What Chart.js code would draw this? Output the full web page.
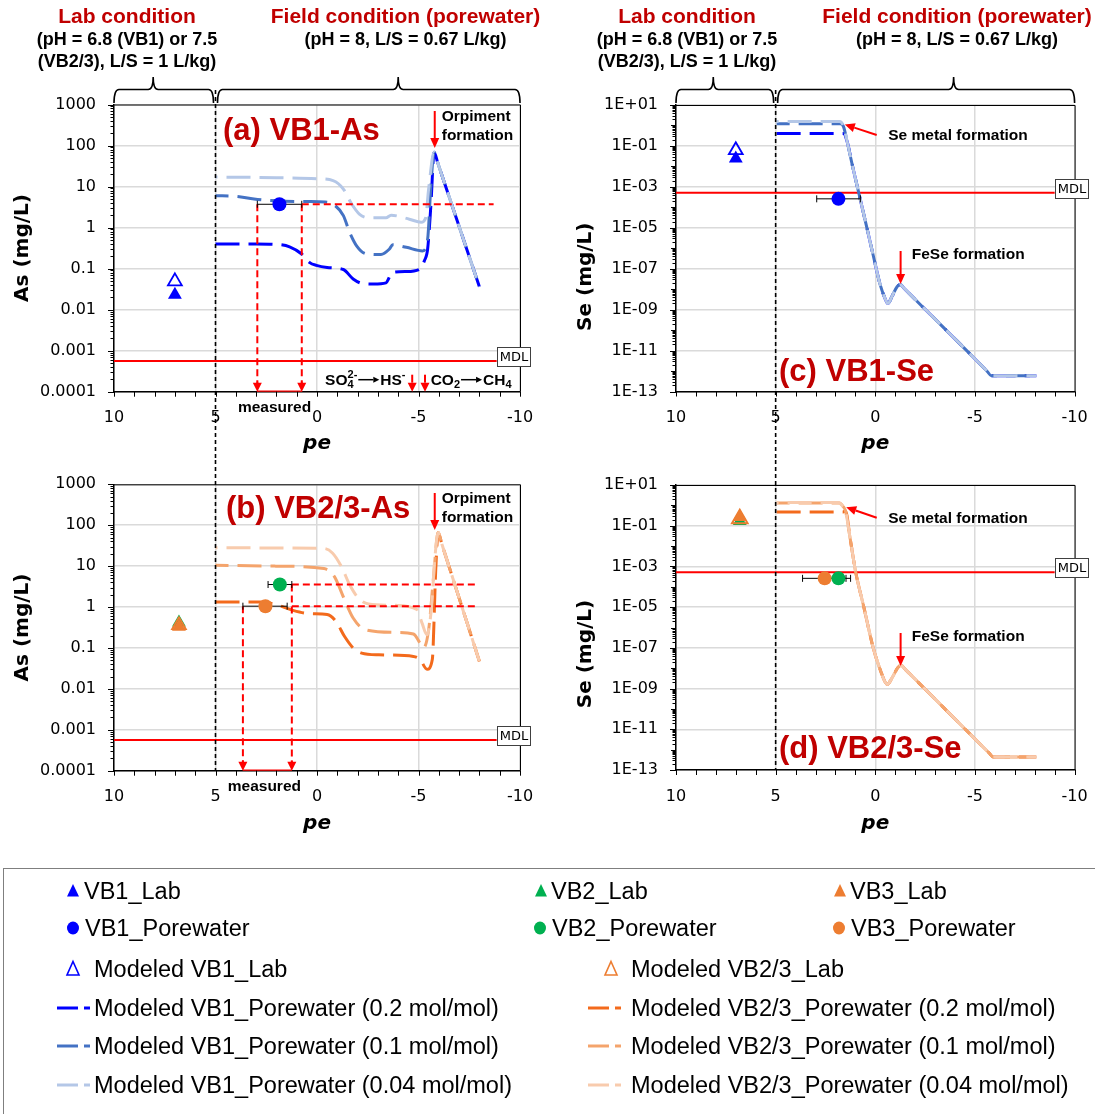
<!DOCTYPE html>
<html>
<head>
<meta charset="utf-8">
<script src="https://cdn.jsdelivr.net/npm/chart.js@4.4.1/dist/chart.umd.min.js"></script>
<style>
  html, body { margin: 0; padding: 0; background: #fff; width: 1095px; height: 1114px; overflow: hidden; position: relative; }
  canvas { position: absolute; }
  .box { position: absolute; left: 3px; top: 868px; width: 1100px; height: 260px; border: 1px solid #7f7f7f; box-sizing: border-box; }
  .leg { position: absolute; font-family: "Liberation Sans", Arial, sans-serif; font-size: 23.5px; color: #000; white-space: nowrap; line-height: 26px; }
  svg { position: absolute; left: 0; top: 0; }
</style>
</head>
<body>
<canvas id="cA" width="548" height="460" style="left:0;top:0"></canvas>
<canvas id="cB" width="548" height="395" style="left:0;top:460px"></canvas>
<canvas id="cC" width="547" height="460" style="left:548px;top:0"></canvas>
<canvas id="cD" width="547" height="395" style="left:548px;top:460px"></canvas>
<div class="box"></div>
<svg id="legMarks" width="1095" height="1114"></svg>
<div id="legend"></div>
<script>
// ---------- axis ticks ----------
const peTicks = [10, 5, 0, -5, -10];
const peTickLabels = ['10', '5', '0', '-5', '-10'];
const asTicks = [1e-4, 1e-3, 1e-2, 1e-1, 1, 10, 100, 1000];
const asTickLabels = ['0.0001', '0.001', '0.01', '0.1', '1', '10', '100', '1000'];
const seTicks = [1e-13, 1e-11, 1e-9, 1e-7, 1e-5, 1e-3, 1e-1, 10];
const seTickLabels = ['1E-13', '1E-11', '1E-09', '1E-07', '1E-05', '1E-03', '1E-01', '1E+01'];

// ---------- method detection limits (mg/L) ----------
const mdlAs = 0.00056;
const mdlSe = 0.00052;

// ---------- measured / modeled lab points [pe, mg/L] ----------
const vb1AsLab = [[7.0, 0.023]];
const vb1AsLabModel = [[7.0, 0.049]];
const vb1AsPore = [[1.85, 3.7]];
const vb2AsLab = [[6.8, 0.42]];
const vb3AsLab = [[6.8, 0.33]];
const vb23AsLabModel = [[6.8, 0.36]];
const vb2AsPore = [[1.83, 3.55]];
const vb3AsPore = [[2.54, 1.05]];
const vb1SeLab = [[7.0, 0.024]];
const vb1SeLabModel = [[7.0, 0.062]];
const vb1SePore = [[1.85, 0.00026]];
const vb2SeLab = [[6.8, 0.17]];
const vb3SeLab = [[6.8, 0.27]];
const vb23SeLabModel = [[6.8, 0.22]];
const vb2SePore = [[1.85, 0.00026]];
const vb3SePore = [[2.54, 0.00026]];

// measured porewater pe range [high, low]
const vb1PeRange = [2.94, 0.75];
const vb2PeRange = [2.41, 1.24];
const vb3PeRange = [3.65, 1.47];
// pe where the measured-concentration guide lines end
const guideEndA = -8.7;
const guideEndB = -7.9;

// ---------- modeled porewater curves [pe, mg/L] ----------
const vb1As02 = [[5.0, 0.40], [4.0, 0.40], [3.0, 0.40], [2.0, 0.39], [1.35, 0.34], [0.77, 0.23], [0.36, 0.14], [0.03, 0.12],
  [-0.5, 0.107], [-1.3, 0.095], [-1.78, 0.056], [-2.27, 0.043], [-2.8, 0.042], [-3.4, 0.045], [-3.55, 0.06], [-3.68, 0.08],
  [-4.4, 0.085], [-5.03, 0.095], [-5.3, 0.16], [-5.45, 0.30], [-5.61, 3.5], [-5.77, 69], [-5.95, 37.5], [-8.0, 0.036]];
const vb1As01 = [[5.0, 6.0], [4.0, 5.8], [3.1, 5.0], [2.0, 4.5], [0.5, 4.3], [-0.4, 4.2], [-0.87, 3.5], [-1.3, 1.95],
  [-1.6, 0.78], [-1.95, 0.36], [-2.42, 0.23], [-3.15, 0.22], [-3.57, 0.30], [-3.73, 0.38], [-4.4, 0.33], [-5.2, 0.27],
  [-5.45, 0.52], [-5.6, 8.7], [-5.77, 69], [-5.95, 37.5], [-8.0, 0.036]];
const vb1As004 = [[5.0, 17], [2.0, 16.5], [0.0, 15.5], [-0.79, 14], [-1.3, 8.7], [-1.7, 3.8], [-2.1, 2.1], [-2.58, 1.73],
  [-3.4, 1.73], [-3.65, 2.0], [-4.55, 1.6], [-5.13, 1.35], [-5.35, 1.7], [-5.5, 8.7], [-5.77, 69], [-5.95, 37.5], [-8.0, 0.036]];

const vb23As02 = [[5.0, 1.33], [2.71, 1.33], [2.03, 1.15], [1.19, 0.83], [0.34, 0.69], [-0.5, 0.66], [-0.93, 0.45],
  [-1.36, 0.19], [-1.78, 0.10], [-2.2, 0.075], [-3.05, 0.068], [-4.75, 0.062], [-5.08, 0.052], [-5.42, 0.030],
  [-5.68, 0.052], [-5.85, 8.3], [-5.97, 66], [-6.15, 34.7], [-8.0, 0.047]];
const vb23As01 = [[5.0, 10.5], [2.03, 10], [-0.34, 8.7], [-0.85, 5.6], [-1.36, 1.5], [-1.78, 0.54], [-2.37, 0.28],
  [-3.9, 0.24], [-4.75, 0.22], [-5.08, 0.13], [-5.25, 0.10], [-5.5, 0.28], [-5.73, 4.7], [-5.97, 66], [-6.15, 34.7], [-8.0, 0.047]];
const vb23As004 = [[5.0, 28], [-0.34, 27], [-0.76, 21], [-1.19, 10], [-1.61, 3.5], [-2.03, 1.67], [-2.54, 1.19],
  [-3.9, 1.1], [-4.92, 0.87], [-5.17, 0.41], [-5.42, 0.21], [-5.63, 0.87], [-5.8, 14.5], [-5.97, 66], [-6.15, 34.7], [-8.0, 0.047]];

// shared reduced branch of the Se curves (Se metal -> FeSe control)
const vb1SeTail = [[1.41, 0.16], [1.15, 1.1e-2], [0.8, 3.8e-4], [0.45, 1.3e-5], [0.10, 4.3e-7], [-0.24, 1.7e-8],
  [-0.47, 3.9e-9], [-0.63, 2.0e-9], [-0.85, 4.7e-9], [-1.1, 1.35e-8], [-1.25, 1.7e-8], [-1.45, 1.08e-8],
  [-5.62, 9.5e-13], [-5.82, 5.9e-13], [-6.0, 5.9e-13], [-8.08, 5.9e-13]];
const vb1Se02 = [[4.95, 0.41], [1.6, 0.41]].concat(vb1SeTail);
const vb1Se01 = [[4.95, 1.2], [1.75, 1.2], [1.6, 0.9]].concat(vb1SeTail);
const vb1Se004 = [[4.95, 1.55], [1.8, 1.55], [1.6, 0.95]].concat(vb1SeTail);

const vb23SeTail = [[1.5, 0.55], [1.25, 2.0e-2], [0.98, 5.0e-4], [0.575, 1.0e-5], [0.105, 1.0e-7], [-0.3, 6.0e-9],
  [-0.48, 2.2e-9], [-0.6, 1.6e-9], [-0.85, 3.5e-9], [-1.14, 1.1e-8], [-1.29, 1.4e-8], [-1.5, 8.8e-9],
  [-5.7, 7.0e-13], [-5.91, 4.4e-13], [-6.1, 4.4e-13], [-8.08, 4.4e-13]];
const vb23Se02 = [[4.95, 0.47], [1.62, 0.47]].concat(vb23SeTail);
const vb23Se01 = [[4.95, 1.3], [1.8, 1.3], [1.62, 0.9]].concat(vb23SeTail);
const vb23Se004 = [[4.95, 1.4], [1.85, 1.4], [1.65, 0.95]].concat(vb23SeTail);

// ---------- styling ----------
const FONT = '"Liberation Sans", Arial, sans-serif';
const TFONT = '"DejaVu Sans", Verdana, sans-serif';
const RED = '#FF0000';
const TITLE_RED = '#C00000';
const C = {
  blue: '#0000FF', blue02: '#0000FF', blue01: '#4472C4', blue004: '#B4C7E7',
  green: '#00B050', orange: '#ED7D31',
  or02: '#F36A1C', or01: '#F4A46C', or004: '#F8CBAD'
};

const xy = pairs => pairs.map(p => ({ x: p[0], y: p[1] }));

function curve(pairs, color, offset, order) {
  return { data: xy(pairs), borderColor: color, borderWidth: 3, borderDash: [24, 9], borderDashOffset: offset,
    borderCapStyle: 'butt', pointRadius: 0, fill: false, cubicInterpolationMode: 'monotone', order };
}
function pts(pairs, style, r, fill, stroke, bw, order) {
  return { data: xy(pairs), showLine: false, pointStyle: style, pointRadius: r, pointHoverRadius: r,
    pointBackgroundColor: fill, pointBorderColor: stroke, pointBorderWidth: bw, order };
}
function errbar(range, v) {
  return { data: [{ x: range[0], y: v }, { x: range[1], y: v }], borderColor: '#000', borderWidth: 1,
    pointStyle: 'line', pointRotation: 90, pointRadius: 3.5, pointBorderColor: '#000', pointBorderWidth: 1, order: 2 };
}
function guide(pairs, dashed, w) {
  return { data: xy(pairs), borderColor: RED, borderWidth: w || 2, borderDash: dashed ? [7, 4] : [],
    pointRadius: 0, tension: 0, order: 3 };
}
function mdlLine(v, xEnd) {
  return { data: [{ x: 10, y: v }, { x: xEnd, y: v }], borderColor: RED, borderWidth: 2, pointRadius: 0, order: 8 };
}

// ---------- drawing helpers ----------
function text(ctx, s, x, y, font, color, align, base) {
  ctx.font = font; ctx.fillStyle = color || '#000';
  ctx.textAlign = align || 'left'; ctx.textBaseline = base || 'middle';
  ctx.fillText(s, x, y);
}
function arrow(ctx, x0, y0, x1, y1, color, lw, hl, hw) {
  const a = Math.atan2(y1 - y0, x1 - x0);
  const bx = x1 - hl * Math.cos(a), by = y1 - hl * Math.sin(a);
  ctx.save();
  ctx.strokeStyle = color; ctx.fillStyle = color; ctx.lineWidth = lw; ctx.setLineDash([]);
  ctx.beginPath(); ctx.moveTo(x0, y0); ctx.lineTo(bx, by); ctx.stroke();
  ctx.beginPath(); ctx.moveTo(x1, y1);
  ctx.lineTo(bx + hw * Math.sin(a), by - hw * Math.cos(a));
  ctx.lineTo(bx - hw * Math.sin(a), by + hw * Math.cos(a));
  ctx.closePath(); ctx.fill();
  ctx.restore();
}
function brace(ctx, x1, x2, xn, yTip, yBase, yEnd) {
  const r = 5;
  ctx.save(); ctx.strokeStyle = '#000'; ctx.lineWidth = 1.6; ctx.setLineDash([]);
  ctx.beginPath();
  ctx.moveTo(x1, yEnd);
  ctx.quadraticCurveTo(x1, yBase, x1 + r, yBase);
  ctx.lineTo(xn - r, yBase);
  ctx.quadraticCurveTo(xn, yBase, xn, yTip);
  ctx.quadraticCurveTo(xn, yBase, xn + r, yBase);
  ctx.lineTo(x2 - r, yBase);
  ctx.quadraticCurveTo(x2, yBase, x2, yEnd);
  ctx.stroke(); ctx.restore();
}
function vDash(ctx, x, y0, y1) {
  ctx.save(); ctx.strokeStyle = '#000'; ctx.lineWidth = 1.6; ctx.setLineDash([4, 3]);
  ctx.beginPath(); ctx.moveTo(x, y0); ctx.lineTo(x, y1); ctx.stroke(); ctx.restore();
}
function mdlBox(ctx, x, yLine) {
  ctx.save();
  ctx.fillStyle = '#fff'; ctx.strokeStyle = '#404040'; ctx.lineWidth = 1;
  const y = Math.round(yLine - 14) + 0.5, xx = Math.round(x) + 0.5;
  ctx.fillRect(xx, y, 33, 19); ctx.strokeRect(xx, y, 33, 19);
  text(ctx, 'MDL', xx + 16.5, y + 10, '13px ' + TFONT, '#000', 'center', 'middle');
  ctx.restore();
}
function axisTitles(c, yTitle, xc, yTitlePos, xBase) {
  const ctx = c.ctx;
  ctx.save();
  ctx.translate(xc, yTitlePos); ctx.rotate(-Math.PI / 2);
  text(ctx, yTitle, 0, 0, 'bold 20px ' + TFONT, '#000', 'center', 'middle');
  ctx.restore();
  text(ctx, 'pe', c.scales.x.getPixelForValue(0), xBase, 'italic bold 20px ' + TFONT, '#000', 'center', 'alphabetic');
}
function frameAndTicks(c) {
  const { ctx, chartArea: a, scales: { x, y } } = c;
  ctx.save();
  ctx.strokeStyle = '#000'; ctx.lineWidth = 1; ctx.setLineDash([]);
  ctx.beginPath();
  ctx.moveTo(a.left, a.top + 0.5); ctx.lineTo(a.right + 0.5, a.top + 0.5); ctx.lineTo(a.right + 0.5, a.bottom);
  ctx.stroke();
  // log ticks: decades and 2..9 subdivisions
  const lo = Math.round(Math.log10(y.min)), hi = Math.round(Math.log10(y.max));
  const labeled = y.ticks.map(t => Math.round(Math.log10(t.value)));
  ctx.beginPath();
  for (let n = lo; n <= hi; n++) {
    for (let k = 1; k < 10; k++) {
      if (n === hi && k > 1) break;
      const yy = Math.round(y.getPixelForValue(k * Math.pow(10, n))) + 0.5;
      const len = k === 1 ? (labeled.includes(n) ? 6 : 5) : 3.5;
      ctx.moveTo(a.left - len, yy); ctx.lineTo(a.left, yy);
    }
  }
  for (let p = -10; p <= 10; p++) {
    const xx = Math.round(x.getPixelForValue(p)) + 0.5;
    ctx.moveTo(xx, a.bottom); ctx.lineTo(xx, a.bottom + 5);
  }
  ctx.stroke();
  ctx.restore();
}

function headers(ctx, xl, xr) {
  const hb = 'bold 21px ' + FONT, sb = 'bold 18px ' + FONT;
  text(ctx, 'Lab condition', xl, 17, hb, TITLE_RED, 'center');
  text(ctx, '(pH = 6.8 (VB1) or 7.5', xl, 40, sb, '#000', 'center');
  text(ctx, '(VB2/3), L/S = 1 L/kg)', xl, 62, sb, '#000', 'center');
  text(ctx, 'Field condition (porewater)', xr, 17, hb, TITLE_RED, 'center');
  text(ctx, '(pH = 8, L/S = 0.67 L/kg)', xr, 40, sb, '#000', 'center');
}

function measuredMarks(c, hiPe, loPe, labelShift) {
  const { ctx, chartArea: a, scales: { x } } = c;
  const x1 = x.getPixelForValue(hiPe), x2 = x.getPixelForValue(loPe);
  arrow(ctx, x1, a.bottom - 10, x1, a.bottom, RED, 2, 9, 4.5);
  arrow(ctx, x2, a.bottom - 10, x2, a.bottom, RED, 2, 9, 4.5);
  text(ctx, 'measured', (x1 + x2) / 2 + labelShift, a.bottom + 16, 'bold 15.5px ' + FONT, '#000', 'center');
}

function orpiment(c, yTop) {
  const { ctx, scales: { x } } = c;
  const xp = x.getPixelForValue(-5.8);
  arrow(ctx, xp, yTop, xp, yTop + 37, RED, 2, 10, 4.5);
  text(ctx, 'Orpiment', xp + 7, yTop + 5.5, 'bold 15.5px ' + FONT, '#000', 'left');
  text(ctx, 'formation', xp + 7, yTop + 24.5, 'bold 15.5px ' + FONT, '#000', 'left');
}

function seLabels(c, yMetal, yFeSe, tipPe) {
  const { ctx, scales: { x } } = c;
  const xt = x.getPixelForValue(-0.07);
  arrow(ctx, xt, yMetal, x.getPixelForValue(tipPe), yMetal - 10.5, RED, 2, 10, 4.5);
  text(ctx, 'Se metal formation', x.getPixelForValue(-0.65), yMetal + 1, 'bold 15.5px ' + FONT, '#000', 'left');
  const xf = x.getPixelForValue(-1.27);
  arrow(ctx, xf, yFeSe - 3, xf, yFeSe + 30, RED, 2, 10, 4.5);
  text(ctx, 'FeSe formation', x.getPixelForValue(-1.83), yFeSe + 1, 'bold 15.5px ' + FONT, '#000', 'left');
}

function chemLabel(c) {
  // SO4(2-) -> HS-   and   CO2 -> CH4 with redox-ladder arrows
  const { ctx, chartArea: a, scales: { x } } = c;
  const yb = a.bottom - 6.5;
  const big = 'bold 15.5px ' + FONT, small = 'bold 11px ' + FONT;
  ctx.textAlign = 'left'; ctx.textBaseline = 'alphabetic'; ctx.fillStyle = '#000';
  let px = x.getPixelForValue(-0.4);
  ctx.font = big; ctx.fillText('SO', px, yb); px += ctx.measureText('SO').width;
  ctx.font = small; ctx.fillText('4', px, yb + 3); ctx.fillText('2-', px, yb - 7); px += ctx.measureText('2-').width;
  arrow(ctx, px + 1, yb - 5.5, px + 22, yb - 5.5, '#000', 1.5, 6, 3);
  px += 23;
  ctx.font = big; ctx.textBaseline = 'alphabetic'; ctx.fillStyle = '#000'; ctx.textAlign = 'left';
  ctx.fillText('HS', px, yb); px += ctx.measureText('HS').width;
  ctx.font = small; ctx.fillText('-', px, yb - 7);
  px = x.getPixelForValue(-5.6);
  ctx.font = big; ctx.fillText('CO', px, yb); px += ctx.measureText('CO').width;
  ctx.font = small; ctx.fillText('2', px, yb + 3); px += ctx.measureText('2').width;
  arrow(ctx, px + 1, yb - 5.5, px + 22, yb - 5.5, '#000', 1.5, 6, 3);
  px += 23;
  ctx.font = big; ctx.textBaseline = 'alphabetic'; ctx.fillStyle = '#000'; ctx.textAlign = 'left';
  ctx.fillText('CH', px, yb); px += ctx.measureText('CH').width;
  ctx.font = small; ctx.fillText('4', px, yb + 3);
  for (const p of [-4.69, -5.32]) {
    const xx = x.getPixelForValue(p);
    arrow(ctx, xx, a.bottom - 17, xx, a.bottom, RED, 2, 9, 4.5);
  }
}

// ---------- chart factory ----------
function panel(id, W, H, area, yRange, yTicks, yLabels, datasets, decorate) {
  return new Chart(document.getElementById(id), {
    type: 'line',
    data: { datasets },
    options: {
      responsive: false, animation: false, devicePixelRatio: 1, events: [],
      layout: { padding: { top: area.t, right: W - area.r, left: 0, bottom: 0 } },
      plugins: { legend: { display: false }, tooltip: { enabled: false } },
      scales: {
        x: {
          type: 'linear', reverse: true, min: -10, max: 10,
          afterBuildTicks: s => { s.ticks = peTicks.map(v => ({ value: v })); },
          ticks: { callback: v => peTickLabels[peTicks.indexOf(v)], font: { family: TFONT, size: 16 }, color: '#000',
            padding: 17, maxRotation: 0, autoSkip: false },
          grid: { color: '#dadada', lineWidth: 1.5, drawTicks: false },
          border: { color: '#000', width: 1.5 },
          afterFit: s => { s.height = H - area.b; s.paddingLeft = 0; s.paddingRight = 0; }
        },
        y: {
          type: 'logarithmic', min: yRange[0], max: yRange[1],
          afterBuildTicks: s => { s.ticks = yTicks.map(v => ({ value: v })); },
          ticks: { callback: (v, i) => yLabels[i], font: { family: TFONT, size: 16 }, color: '#000', padding: 18, autoSkip: false },
          grid: { color: '#dadada', lineWidth: 1.5, drawTicks: false },
          border: { color: '#000', width: 1.5 },
          afterFit: s => { s.width = area.l; s.paddingTop = 0; s.paddingBottom = 0; }
        }
      }
    },
    plugins: [{ id: 'deco', afterDraw: c => { frameAndTicks(c); decorate(c); } }]
  });
}

// ---------- (a) VB1 arsenic ----------
panel('cA', 548, 460, { l: 114, t: 104.5, r: 520, b: 391.7 }, [1e-4, 1000], asTicks, asTickLabels, [
  pts(vb1AsPore, 'circle', 7, C.blue, C.blue, 0, 0),
  pts(vb1AsLab, 'triangle', 8, C.blue, C.blue, 0, 0),
  pts(vb1AsLabModel, 'triangle', 8, 'rgba(0,0,0,0)', C.blue, 1.8, 1),
  errbar(vb1PeRange, vb1AsPore[0][1]),
  guide([[vb1PeRange[0], vb1AsPore[0][1]], [vb1PeRange[0], 1e-4]], true),
  guide([[vb1PeRange[1], vb1AsPore[0][1]], [vb1PeRange[1], 1e-4]], true),
  guide([[vb1PeRange[1], vb1AsPore[0][1]], [guideEndA, vb1AsPore[0][1]]], true),
  guide([[vb1PeRange[0], 1e-4], [vb1PeRange[1], 1e-4]], false, 2.5),
  curve(vb1As004, C.blue004, 22, 4),
  curve(vb1As01, C.blue01, 11, 5),
  curve(vb1As02, C.blue02, 0, 6),
  mdlLine(mdlAs, -8.85)
], c => {
  const { ctx, scales: { x, y } } = c;
  headers(ctx, 127, 405.5);
  brace(ctx, x.getPixelForValue(10), x.getPixelForValue(5) - 2, x.getPixelForValue(8.07), 77, 89.5, 103);
  brace(ctx, x.getPixelForValue(5) + 2, x.getPixelForValue(-10), x.getPixelForValue(-4.0), 77, 89.5, 103);
  vDash(ctx, x.getPixelForValue(5), 90, 460);
  text(ctx, '(a) VB1-As', 223, 131, 'bold 31px ' + FONT, TITLE_RED, 'left');
  orpiment(c, 111);
  chemLabel(c);
  measuredMarks(c, vb1PeRange[0], vb1PeRange[1], -5);
  mdlBox(ctx, x.getPixelForValue(-8.85), y.getPixelForValue(mdlAs));
  axisTitles(c, 'As (mg/L)', 23, 248, 449);
});

// ---------- (b) VB2/3 arsenic ----------
const vb23Hi = vb3PeRange[0], vb23Lo = vb2PeRange[1];
panel('cB', 548, 395, { l: 114, t: 24.3, r: 520, b: 310.7 }, [1e-4, 1000], asTicks, asTickLabels, [
  pts(vb2AsPore, 'circle', 7, C.green, C.green, 0, 0),
  pts(vb3AsPore, 'circle', 7, C.orange, C.orange, 0, 0),
  pts(vb3AsLab, 'triangle', 8, C.orange, C.orange, 0, 0),
  pts(vb23AsLabModel, 'triangle', 8, 'rgba(0,0,0,0)', C.orange, 1.8, 1),
  pts(vb2AsLab, 'triangle', 8, C.green, C.green, 0, 1),
  errbar(vb2PeRange, vb2AsPore[0][1]),
  errbar(vb3PeRange, vb3AsPore[0][1]),
  guide([[vb23Hi, vb3AsPore[0][1]], [vb23Hi, 1e-4]], true),
  guide([[vb23Lo, vb2AsPore[0][1]], [vb23Lo, 1e-4]], true),
  guide([[vb23Lo, vb2AsPore[0][1]], [guideEndB, vb2AsPore[0][1]]], true),
  guide([[vb23Lo, vb3AsPore[0][1]], [guideEndB, vb3AsPore[0][1]]], true),
  guide([[vb23Hi, 1e-4], [vb23Lo, 1e-4]], false, 2.5),
  curve(vb23As004, C.or004, 22, 4),
  curve(vb23As01, C.or01, 11, 5),
  curve(vb23As02, C.or02, 0, 6),
  mdlLine(mdlAs, -8.85)
], c => {
  const { ctx, chartArea: a, scales: { x, y } } = c;
  vDash(ctx, x.getPixelForValue(5), 0, a.bottom);
  text(ctx, '(b) VB2/3-As', 226, 49.5, 'bold 31px ' + FONT, TITLE_RED, 'left');
  orpiment(c, 33);
  measuredMarks(c, vb23Hi, vb23Lo, -3);
  mdlBox(ctx, x.getPixelForValue(-8.85), y.getPixelForValue(mdlAs));
  axisTitles(c, 'As (mg/L)', 23, 167.5, 369);
});

// ---------- (c) VB1 selenium ----------
panel('cC', 547, 460, { l: 128, t: 105, r: 526.6, b: 391.5 }, [1e-13, 10], seTicks, seTickLabels, [
  pts(vb1SePore, 'circle', 7, C.blue, C.blue, 0, 0),
  pts(vb1SeLab, 'triangle', 8, C.blue, C.blue, 0, 0),
  pts(vb1SeLabModel, 'triangle', 8, 'rgba(0,0,0,0)', C.blue, 1.8, 1),
  errbar(vb1PeRange, vb1SePore[0][1]),
  curve(vb1Se004, C.blue004, 22, 4),
  curve(vb1Se01, C.blue01, 11, 5),
  curve(vb1Se02, C.blue02, 0, 6),
  mdlLine(mdlSe, -9.0)
], c => {
  const { ctx, scales: { x, y } } = c;
  headers(ctx, 139, 409);
  brace(ctx, x.getPixelForValue(10), x.getPixelForValue(5) - 2, x.getPixelForValue(8.13), 77, 89.5, 103);
  brace(ctx, x.getPixelForValue(5) + 2, x.getPixelForValue(-10), x.getPixelForValue(-3.93), 77, 89.5, 103);
  vDash(ctx, x.getPixelForValue(5), 90, 460);
  text(ctx, '(c) VB1-Se', 231, 372, 'bold 31px ' + FONT, TITLE_RED, 'left');
  seLabels(c, 135, 254, 1.53);
  mdlBox(ctx, x.getPixelForValue(-9.0), y.getPixelForValue(mdlSe));
  axisTitles(c, 'Se (mg/L)', 37.5, 276.7, 449);
});

// ---------- (d) VB2/3 selenium ----------
panel('cD', 547, 395, { l: 128, t: 25, r: 526.6, b: 310 }, [1e-13, 10], seTicks, seTickLabels, [
  pts(vb2SePore, 'circle', 7, C.green, C.green, 0, 0),
  pts(vb3SePore, 'circle', 7, C.orange, C.orange, 0, 1),
  pts(vb3SeLab, 'triangle', 8, C.orange, C.orange, 0, 0),
  pts(vb23SeLabModel, 'triangle', 9, 'rgba(0,0,0,0)', C.orange, 2, 0),
  pts(vb2SeLab, 'triangle', 8, C.green, C.green, 0, 1),
  errbar(vb2PeRange, vb2SePore[0][1]),
  errbar(vb3PeRange, vb3SePore[0][1]),
  curve(vb23Se004, C.or004, 22, 4),
  curve(vb23Se01, C.or01, 11, 5),
  curve(vb23Se02, C.or02, 0, 6),
  mdlLine(mdlSe, -9.0)
], c => {
  const { ctx, chartArea: a, scales: { x, y } } = c;
  vDash(ctx, x.getPixelForValue(5), 0, a.bottom);
  text(ctx, '(d) VB2/3-Se', 231, 289, 'bold 31px ' + FONT, TITLE_RED, 'left');
  seLabels(c, 57.7, 176, 1.46);
  mdlBox(ctx, x.getPixelForValue(-9.0), y.getPixelForValue(mdlSe));
  axisTitles(c, 'Se (mg/L)', 37.5, 194, 369);
});

// ---------- legend ----------
const legendRows = [891, 928, 969, 1008, 1046, 1085];
const legendEntries = [
  { label: 'VB1_Lab', mark: 'tri', color: C.blue, mx: 73, tx: 84, row: 0 },
  { label: 'VB2_Lab', mark: 'tri', color: C.green, mx: 541, tx: 551, row: 0 },
  { label: 'VB3_Lab', mark: 'tri', color: C.orange, mx: 840, tx: 850, row: 0 },
  { label: 'VB1_Porewater', mark: 'dot', color: C.blue, mx: 73, tx: 85, row: 1 },
  { label: 'VB2_Porewater', mark: 'dot', color: C.green, mx: 540, tx: 552, row: 1 },
  { label: 'VB3_Porewater', mark: 'dot', color: C.orange, mx: 839, tx: 851, row: 1 },
  { label: 'Modeled VB1_Lab', mark: 'open', color: C.blue, mx: 73, tx: 94, row: 2 },
  { label: 'Modeled VB2/3_Lab', mark: 'open', color: C.orange, mx: 611, tx: 631, row: 2 },
  { label: 'Modeled VB1_Porewater (0.2 mol/mol)', mark: 'dash', color: C.blue02, mx: 57, tx: 94, row: 3 },
  { label: 'Modeled VB1_Porewater (0.1 mol/mol)', mark: 'dash', color: C.blue01, mx: 57, tx: 94, row: 4 },
  { label: 'Modeled VB1_Porewater (0.04 mol/mol)', mark: 'dash', color: C.blue004, mx: 57, tx: 94, row: 5 },
  { label: 'Modeled VB2/3_Porewater (0.2 mol/mol)', mark: 'dash', color: C.or02, mx: 588, tx: 631, row: 3 },
  { label: 'Modeled VB2/3_Porewater (0.1 mol/mol)', mark: 'dash', color: C.or01, mx: 588, tx: 631, row: 4 },
  { label: 'Modeled VB2/3_Porewater (0.04 mol/mol)', mark: 'dash', color: C.or004, mx: 588, tx: 631, row: 5 }
];
(function buildLegend() {
  const svg = document.getElementById('legMarks');
  const box = document.getElementById('legend');
  let marks = '';
  for (const e of legendEntries) {
    const y = legendRows[e.row];
    if (e.mark === 'tri') {
      marks += `<polygon points="${e.mx},${y - 7} ${e.mx + 6},${y + 5.5} ${e.mx - 6},${y + 5.5}" fill="${e.color}"/>`;
    } else if (e.mark === 'dot') {
      marks += `<ellipse cx="${e.mx}" cy="${y}" rx="6" ry="6.5" fill="${e.color}"/>`;
    } else if (e.mark === 'open') {
      marks += `<polygon points="${e.mx},${y - 7.5} ${e.mx + 6},${y + 6} ${e.mx - 6},${y + 6}" fill="none" stroke="${e.color}" stroke-width="1.6"/>`;
    } else {
      marks += `<line x1="${e.mx}" y1="${y}" x2="${e.mx + 21}" y2="${y}" stroke="${e.color}" stroke-width="3"/>`;
      marks += `<line x1="${e.mx + 27}" y1="${y}" x2="${e.mx + 33}" y2="${y}" stroke="${e.color}" stroke-width="3"/>`;
    }
    const d = document.createElement('div');
    d.className = 'leg';
    d.style.left = e.tx + 'px';
    d.style.top = (y - 13) + 'px';
    d.textContent = e.label;
    box.appendChild(d);
  }
  svg.innerHTML = marks;
})();
</script>
</body>
</html>
